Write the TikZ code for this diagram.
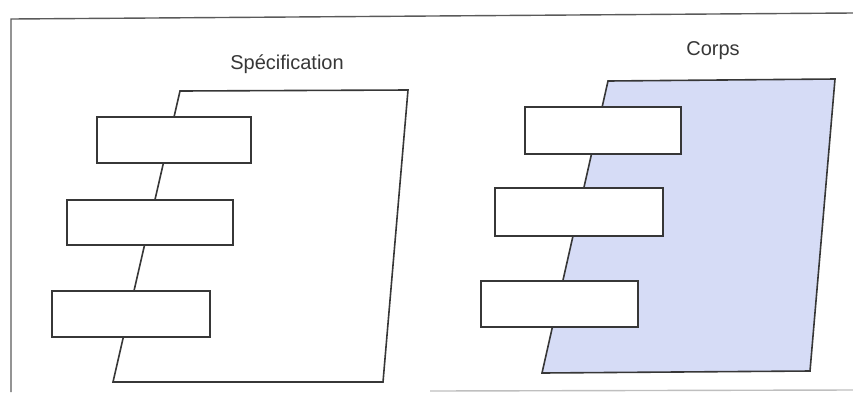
\documentclass[tikz,border=0pt]{standalone}
\usepackage{fontspec}
\setmainfont{Liberation Sans}
\definecolor{ink}{RGB}{55,55,55}
\definecolor{bodyfill}{RGB}{214,220,246}
\definecolor{framegray}{RGB}{90,90,90}
\begin{document}
\begin{tikzpicture}[x=1pt,y=-1pt,
  outline/.style={draw=ink,line width=1.6pt,line join=miter},
  slot/.style={outline,fill=white},
  caption/.style={text=ink,font=\fontsize{20}{22}\selectfont,anchor=base,inner sep=0pt}]
  \useasboundingbox (0,0) rectangle (853,392);
  % outer frame
  \draw[framegray,line width=1.4pt] (11,392) -- (11,19) -- (853,13);
  \draw[gray!50,line width=1.4pt] (430,391) -- (853,390);
  % specification panel
  \draw[outline,fill=white] (180,91) -- (408,90) -- (383,382) -- (113,382) -- cycle;
  % body panel
  \draw[outline,fill=bodyfill] (608,81) -- (835,79) -- (810,371) -- (542,373) -- cycle;
  % entries of the specification
  \draw[slot] (97,117) rectangle (251,163);
  \draw[slot] (67,200) rectangle (233,245);
  \draw[slot] (52,291) rectangle (210,337);
  % entries of the body
  \draw[slot] (525,107) rectangle (681,154);
  \draw[slot] (495,188) rectangle (663,236);
  \draw[slot] (481,281) rectangle (638,327);
  % titles
  \node[caption] (spec) at (287,69) {Spécification};
  \node[caption] (corps) at (713,55) {Corps};
\end{tikzpicture}
\end{document}
